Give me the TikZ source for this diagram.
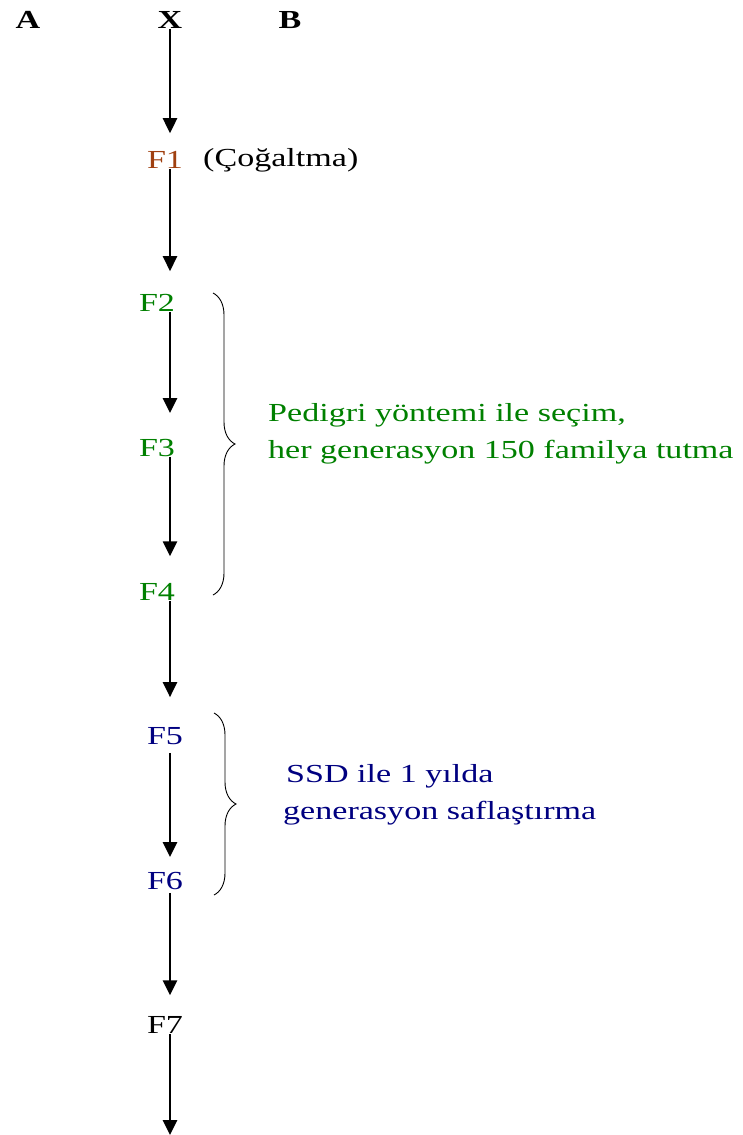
\documentclass[tikz,border=0pt]{standalone}
\usepackage{fontspec}
\setmainfont[FakeStretch=1.31]{Liberation Serif}
\usetikzlibrary{arrows.meta,decorations.pathreplacing}
\definecolor{fbrown}{RGB}{160,64,16}
\definecolor{fgreen}{RGB}{0,128,0}
\definecolor{fnavy}{RGB}{0,0,128}
\begin{document}
\begin{tikzpicture}[x=1pt,y=-1pt,
  lbl/.style={inner sep=0pt, font=\fontsize{26}{30}\selectfont},
  hdr/.style={inner sep=0pt, font=\fontsize{26}{30}\selectfont\bfseries},
  arr/.style={line width=2.6pt, -{Triangle[width=14pt,length=15pt]}},
  brc/.style={decorate, decoration={brace, amplitude=22pt}, line width=0.9pt},
  note/.style={inner sep=0pt, anchor=north west, align=left, font=\fontsize{26}{37.5}\selectfont}]
\useasboundingbox (0,0) rectangle (743,1135);
% headers
\node[hdr] (A) at (28,20) {A};
\node[hdr] (X) at (170,20) {X};
\node[hdr] (B) at (290,20) {B};
% generations
\node[lbl, text=fbrown] (F1) at (165,160) {F1};
\node[lbl, anchor=west] (cog) at (203,160) {(Çoğaltma)};
\node[lbl, text=fgreen] (F2) at (157,303) {F2};
\node[lbl, text=fgreen] (F3) at (157,448) {F3};
\node[lbl, text=fgreen] (F4) at (157,592) {F4};
\node[lbl, text=fnavy] (F5) at (165,736) {F5};
\node[lbl, text=fnavy] (F6) at (165,881) {F6};
\node[lbl] (F7) at (165,1025) {F7};
\coordinate (end) at (170,1135);
% arrows
\draw[arr, shorten >=18pt] (X.south) -- (F1.north -| X);
\draw[arr, shorten >=23pt] (F1.south -| X) -- (F2.north -| X);
\draw[arr, shorten >=26pt] (F2.south -| X) -- (F3.north -| X);
\draw[arr, shorten >=27pt] (F3.south -| X) -- (F4.north -| X);
\draw[arr, shorten >=30pt] (F4.south -| X) -- (F5.north -| X);
\draw[arr, shorten <=8pt, shorten >=15pt] (F5.south -| X) -- (F6.north -| X);
\draw[arr, shorten <=3pt, shorten >=21pt] (F6.south -| X) -- (F7.north -| X);
\draw[arr] (F7.south -| X) -- (end);
% braces
\coordinate (b1t) at (213,293);
\coordinate (b1b) at (213,595);
\coordinate (b2t) at (214,713);
\coordinate (b2b) at (214,895);
\draw[brc] (b1t) -- (b1b);
\draw[brc] (b2t) -- (b2b);
% notes
\node[note, text=fgreen] (pedigri) at (268,403) {Pedigri yöntemi ile seçim,\\her generasyon 150 familya tutma};
\node[note, text=fnavy] (ssd) at (283,764) {\hspace{3pt}SSD ile 1 yılda\\generasyon saflaştırma};
\end{tikzpicture}
\end{document}
